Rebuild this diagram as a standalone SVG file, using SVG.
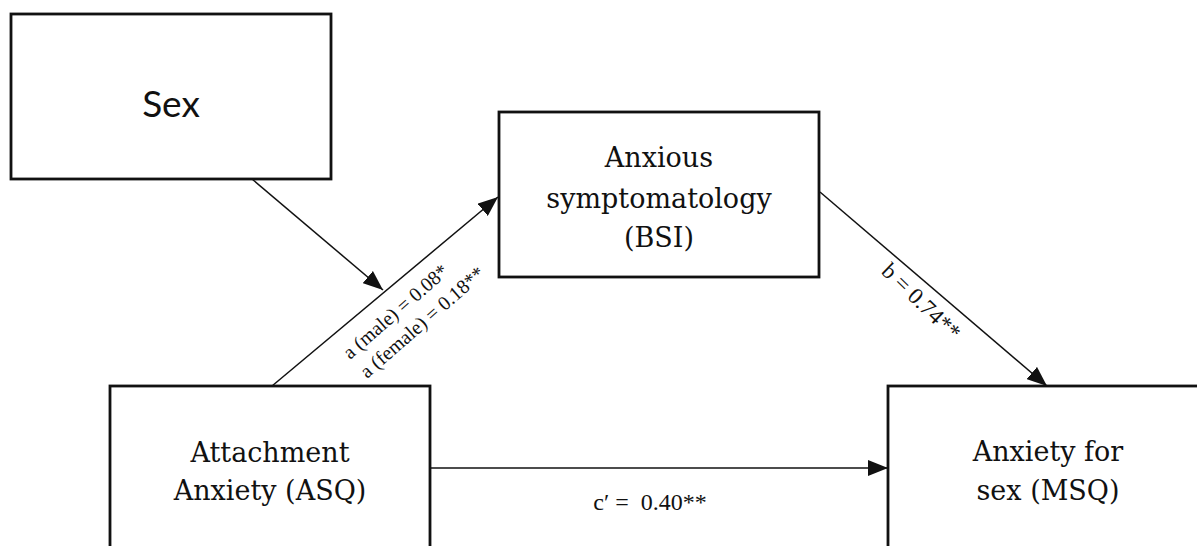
<svg xmlns="http://www.w3.org/2000/svg" width="1197" height="546" viewBox="0 0 1197 546">
<style>
.box{fill:#fff;stroke:#111;stroke-width:2.8}
.node{font-family:"DejaVu Serif","Liberation Serif",serif;font-size:27px;fill:#111;text-anchor:middle}
.sex{font-family:Lato,"Open Sans",sans-serif;font-size:37px;fill:#111;text-anchor:middle}
.lbl{font-family:"Liberation Serif",serif;font-size:20px;fill:#111}
.conn{stroke:#111;stroke-width:1.5;fill:none;marker-end:url(#ah)}
</style>
<defs>
<marker id="ah" markerUnits="userSpaceOnUse" markerWidth="22" markerHeight="16" refX="20" refY="8" orient="auto">
<path d="M0,0 L20,8 L0,16 Z" fill="#111"/>
</marker>
</defs>
<rect width="1197" height="546" fill="#fff"/>
<g id="node-sex">
<rect class="box" x="11" y="14" width="320" height="165"/>
<text class="sex" x="171" y="117">Sex</text>
</g>
<g id="node-bsi">
<rect class="box" x="499" y="112" width="320" height="165"/>
<text class="node" x="659" y="167">Anxious</text>
<text class="node" x="659" y="208">symptomatology</text>
<text class="node" x="659" y="247">(BSI)</text>
</g>
<g id="node-asq">
<rect class="box" x="110" y="386" width="320" height="200"/>
<text class="node" x="270" y="462">Attachment</text>
<text class="node" x="270" y="500">Anxiety (ASQ)</text>
</g>
<g id="node-msq">
<rect class="box" x="888" y="386" width="330" height="200"/>
<text class="node" x="1048" y="461">Anxiety for</text>
<text class="node" x="1048" y="500">sex (MSQ)</text>
</g>
<g id="connectors">
<line class="conn" x1="252" y1="179" x2="383" y2="290"/>
<line class="conn" x1="272" y1="386" x2="498" y2="197"/>
<line class="conn" x1="820" y1="192" x2="1047" y2="386"/>
<line class="conn" x1="430" y1="468" x2="888" y2="468"/>
<text class="lbl" transform="translate(350,360) rotate(-41)">a (male) = 0.08*</text>
<text class="lbl" transform="translate(367,379) rotate(-41)">a (female) = 0.18**</text>
<text class="lbl" style="font-size:23px" text-anchor="middle" transform="translate(916,307) rotate(44)">b = 0.74**</text>
<text class="lbl" style="font-size:24px" text-anchor="middle" x="650" y="510" xml:space="preserve">c′ =  0.40**</text>
</g>
</svg>
